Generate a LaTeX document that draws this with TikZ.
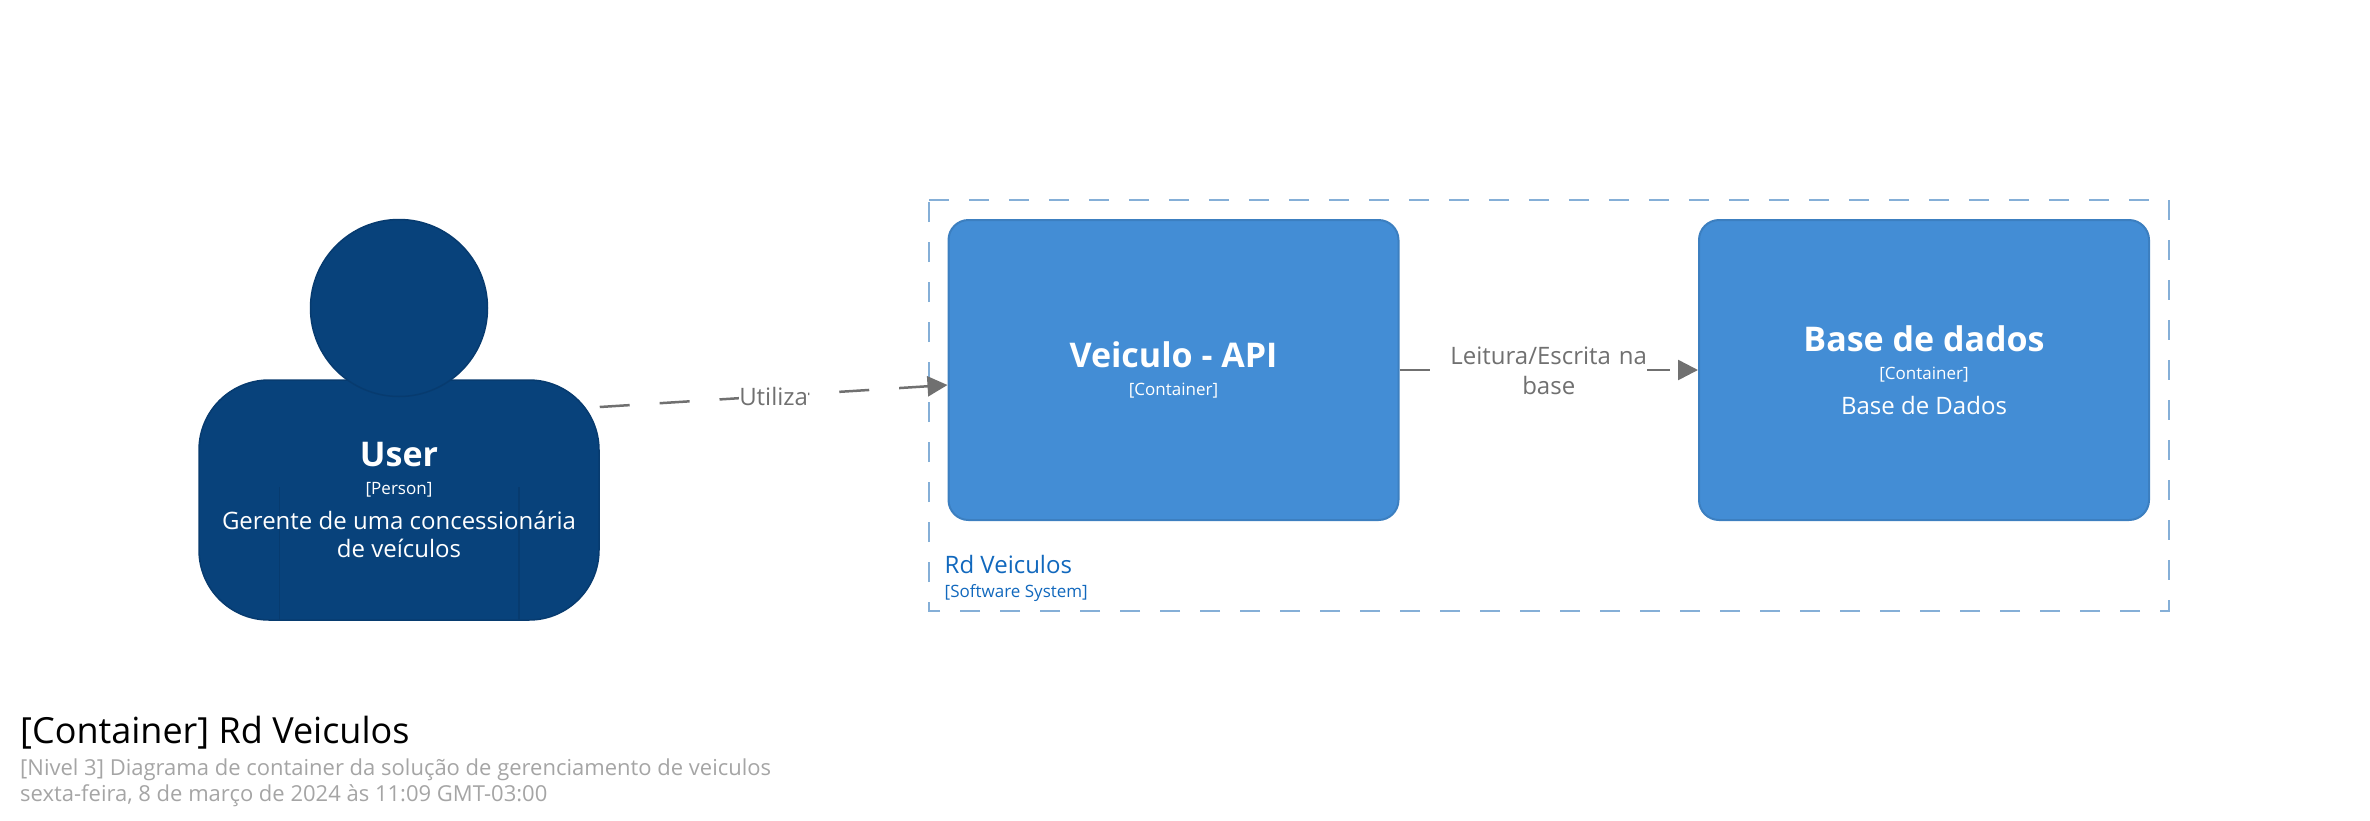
\documentclass[tikz,border=0pt]{standalone}
\usepackage{fontspec}
\setmainfont{Open Sans}
\usetikzlibrary{arrows.meta}
\definecolor{personfill}{HTML}{08427B}
\definecolor{personedge}{HTML}{073B6F}
\definecolor{boxfill}{HTML}{438DD5}
\definecolor{boxedge}{HTML}{3C7FC0}
\definecolor{systemedge}{HTML}{85AFD7}
\definecolor{systemtext}{HTML}{1168BD}
\definecolor{relcolor}{HTML}{707070}
\definecolor{metacolor}{HTML}{A5A5A5}
\newcommand\namefont{\fontsize{34}{34}\bfseries\selectfont}
\newcommand\tagfont{\fontsize{17}{20}\selectfont}

\begin{document}
\begin{tikzpicture}[
x=1pt, y=-1pt,
cardtext/.style={
	text=white, align=center, inner sep=0pt,
	font=\fontsize{24}{34}\selectfont
},
box/.style={
	cardtext, draw=boxedge, fill=boxfill, line width=2pt,
	rounded corners=20pt,
	minimum width=450pt, minimum height=300pt
},
body/.style={
	draw=personedge, fill=personfill, line width=1.5pt,
	rounded corners=70pt, inner sep=0pt,
	minimum width=400pt, minimum height=240pt
},
head/.style={
	circle, draw=personedge, fill=personfill, line width=1.5pt,
	inner sep=0pt, minimum size=177pt
},
arm/.style={draw=personedge, line width=1.5pt},
rel/.style={
	draw=relcolor, line width=2.5pt, dash pattern=on 30pt off 30pt,
	-{Triangle[length=20pt,width=20pt,fill=relcolor]}
},
rellabel/.style={
	fill=white, text=relcolor, inner sep=0pt,
	font=\fontsize{24}{29.5}\selectfont, align=center
},
systemline/.style={draw=systemedge, line width=2pt, dash pattern=on 20pt off 20pt},
metatext/.style={
	anchor=base west, inner sep=0pt, text=metacolor,
	font=\fontsize{22}{27}\selectfont
}
]
\useasboundingbox (0,0) rectangle (2370,820);
% person
\node[body] (user) at (399,500) {};
\draw[arm] ([xshift=81pt]user.south west) -- ++(0,-134);
\draw[arm] ([xshift=-81pt]user.south east) -- ++(0,-134);
\node[head] (userhead) at (399,308) {};
\node[cardtext] (usertext) at (399,500) {{\namefont User}\\[-6pt]{\tagfont [Person]}\\[1.5pt]Gerente de uma concession\'aria\\[-6pt]de ve\'iculos};
% software system
\node[minimum width=1240pt, minimum height=411pt, inner sep=0pt, outer sep=0pt] (system) at (1549,405.5) {};
\draw[systemline] (system.north west) -- (system.north east) -- (system.south east) -- (system.south west) -- cycle;
\node[anchor=base west, inner sep=0pt, text=systemtext, font=\fontsize{24}{29}\selectfont] (systemname) at (944.5,573) {Rd Veiculos};
\node[anchor=base west, inner sep=0pt, text=systemtext, font=\tagfont] (systemtag) at (944.5,597) {[Software System]};
% containers
\node[box] (api) at (1173.5,370) {{\namefont Veiculo - API}\\[-6pt]{\tagfont [Container]}};
\node[box] (db) at (1924,370) {{\namefont Base de dados}\\[-6pt]{\tagfont [Container]}\\[1.5pt]Base de Dados};
% relations
\draw[rel] ([yshift=93pt]user.east) -- node[rellabel, midway] (utiliza) {Utiliza} ([yshift=-15pt]api.west);
\draw[rel] (api.east) -- node[rellabel, midway, yshift=-1pt, text width=197pt] (leitura) {Leitura/Escrita na\\base} (db.west);
% title
\node[anchor=base west, inner sep=0pt, font=\fontsize{36}{44}\selectfont] (title) at (20,743) {[Container] Rd Veiculos};
\node[metatext] (scope) at (20,775) {[Nivel 3] Diagrama de container da solu\c{c}\~ao de gerenciamento de veiculos};
\node[metatext] (stamp) at (20,801) {sexta-feira, 8 de mar\c{c}o de 2024 \`as 11:09 GMT-03:00};
\end{tikzpicture}
\end{document}
